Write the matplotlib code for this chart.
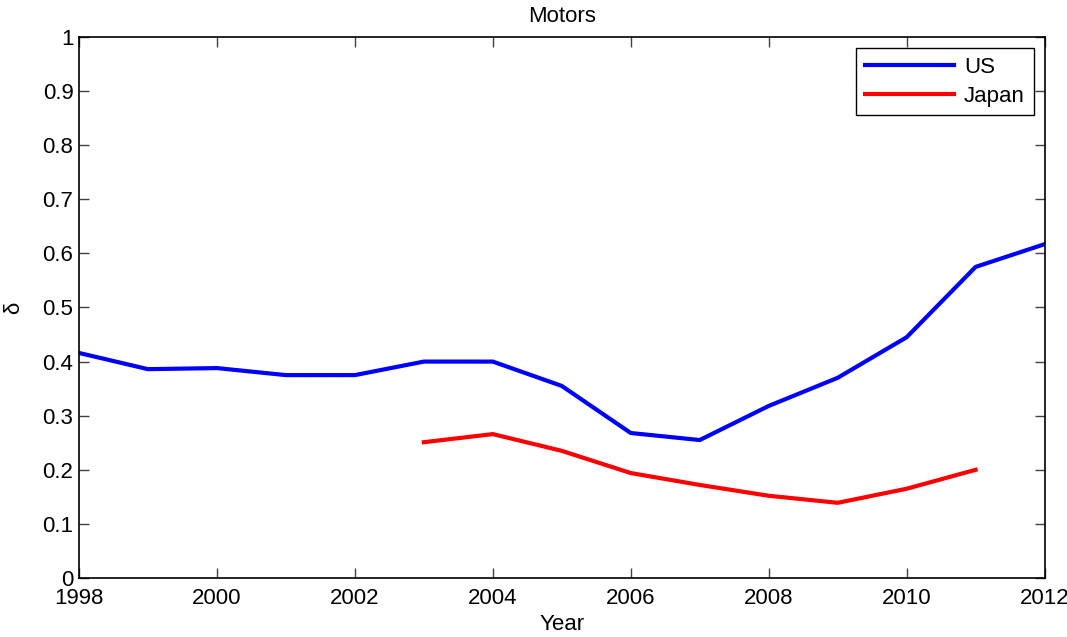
import matplotlib
matplotlib.use("Agg")
import matplotlib.pyplot as plt

plt.rcParams['font.family'] = ['Liberation Sans', 'DejaVu Sans']

us_years = [1998, 1999, 2000, 2001, 2002, 2003, 2004, 2005, 2006, 2007, 2008, 2009, 2010, 2011, 2012]
us_vals = [0.416, 0.386, 0.388, 0.375, 0.375, 0.400, 0.400, 0.355, 0.268, 0.255, 0.318, 0.370, 0.445, 0.575, 0.617]

jp_years = [2003, 2004, 2005, 2006, 2007, 2008, 2009, 2010, 2011]
jp_vals = [0.251, 0.266, 0.235, 0.194, 0.172, 0.152, 0.139, 0.165, 0.200]

fig = plt.figure(figsize=(10.67, 6.37), dpi=100)
ax = fig.add_axes([0.074, 0.0926, 0.905, 0.8494])

ax.plot(us_years, us_vals, color=(0, 0, 1), lw=3, label="US")
ax.plot(jp_years, jp_vals, color=(1, 0, 0), lw=3, label="Japan")

ax.set_xlim(1998, 2012)
ax.set_ylim(0, 1)
ax.set_xticks(range(1998, 2013, 2))
ax.set_yticks([i / 10 for i in range(11)])
ax.set_yticklabels(["0", "0.1", "0.2", "0.3", "0.4", "0.5", "0.6", "0.7", "0.8", "0.9", "1"])
ax.tick_params(direction="in", top=True, right=True, length=7, width=1,
               color="0.25", labelsize=16)
ax.tick_params(axis="x", pad=7)
ax.tick_params(axis="y", pad=4)
for s in ax.spines.values():
    s.set_linewidth(1.2)

ax.set_title("Motors", fontsize=16, pad=11)
ax.set_xlabel("Year", fontsize=16, labelpad=4)
ax.set_ylabel("\u03b4", fontsize=16, labelpad=13)

leg = ax.legend(loc="upper right", bbox_to_anchor=(0.9886, 0.9797), borderaxespad=0,
                fontsize=16, fancybox=False, edgecolor="black", framealpha=1,
                handlelength=4.0, handletextpad=0.45, borderpad=0.4,
                labelspacing=0.35)
leg.get_frame().set_linewidth(1.0)

fig.savefig("out.png", dpi=100)
